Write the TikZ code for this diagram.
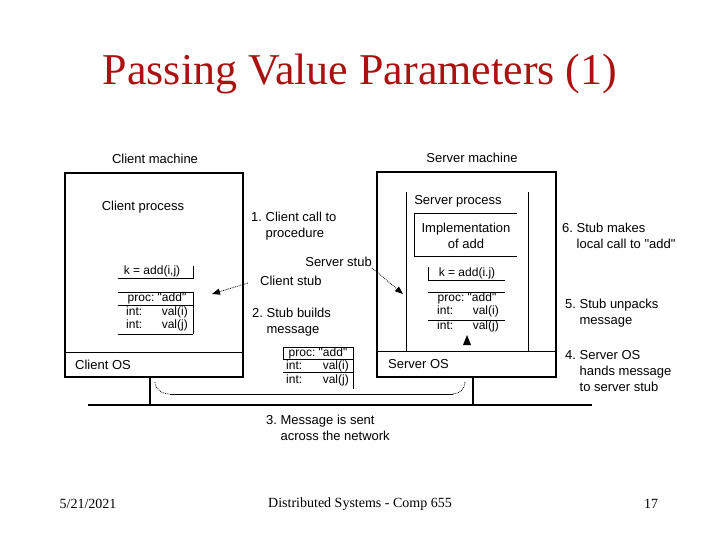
\documentclass[tikz,border=0pt]{standalone}
\usepackage{fontspec}
\setmainfont{Liberation Serif}
\newfontfamily\diagfont{Liberation Sans}[Ligatures=TeXOff]
\usetikzlibrary{arrows.meta}
\definecolor{titlered}{RGB}{170,17,17}
\tikzset{
  lbl/.style={font=\diagfont\fontsize{13}{16}\selectfont, inner sep=0pt},
  note/.style={lbl, anchor=west, align=left},
  stubtxt/.style={font=\diagfont\fontsize{12}{13}\selectfont, inner sep=0pt, text height=8pt, text depth=2.5pt},
  machine/.style={line width=1.8pt},
  thinline/.style={line width=0.8pt},
  stubarrow/.style={densely dotted, line width=0.8pt, -{Triangle[length=8pt,width=6pt]}},
  slidetxt/.style={font=\fontsize{14}{16}\selectfont, inner sep=0pt}
}
\newcommand{\ind}{\phantom{0. }}
\frenchspacing
\begin{document}
\begin{tikzpicture}[x=1pt,y=-1pt]
    \useasboundingbox[fill=white] (0,0) rectangle (720,540);
    % title and footer
    \node[font=\fontsize{44}{48}\selectfont, text=titlered, inner sep=0pt] (title) at (360,74) {Passing Value Parameters (1)};
    \node[slidetxt] (date) at (88,504) {5/21/2021};
    \node[slidetxt] (course) at (360,504) {Distributed Systems - Comp 655};
    \node[slidetxt] (page) at (651,504) {17};
    % machines
    \draw[machine] (65,173) rectangle (243,377);
    \draw[thinline] (65,352) -- (243,352);
    \draw[machine] (377,172) rectangle (556,377);
    \draw[thinline] (377,351) -- (556,351);
    \node[lbl] (cmach) at (155,159) {Client machine};
    \node[lbl] (smach) at (472,158) {Server machine};
    \node[lbl] (cproc) at (143,207) {Client process};
    \node[lbl] (sproc) at (458,201) {Server process};
    \node[lbl, anchor=west] (cos) at (75,365) {Client OS};
    \node[lbl, anchor=west] (sos) at (388,364) {Server OS};
    % server process walls
    \draw[thinline] (406,192) -- (406,351);
    \draw[thinline] (528,192) -- (528,351);
    \draw[thinline] (517,213) -- (414,213) -- (414,256) -- (517,256);
    \node[lbl, align=center] (impl) at (466,236) {Implementation\\of add};
    % client stub
    \draw[thinline] (118,278) -- (193,278) -- (193,266);
    \node[stubtxt] (ccall) at (152,272) {k = add(i,j)};
    \draw[thinline] (118,292) -- (193,292);
    \draw[thinline] (118,305) -- (193,305);
    \draw[thinline] (118,334) -- (193,334);
    \draw[thinline] (193,292) -- (193,334);
    \node[stubtxt] (cproc) at (157,299) {proc: "add"};
    \node[stubtxt, anchor=west] (cint1) at (126,313) {int:};
    \node[stubtxt, anchor=east] (cval1) at (188,313) {val(i)};
    \node[stubtxt, anchor=west] (cint2) at (126,326) {int:};
    \node[stubtxt, anchor=east] (cval2) at (188,326) {val(j)};
    % server stub
    \draw[thinline] (428,267) -- (428,280) -- (505,280);
    \node[stubtxt] (scall) at (467,274) {k = add(i.j)};
    \draw[thinline] (428,292) -- (505,292);
    \draw[thinline] (428,320) -- (505,320);
    \node[stubtxt] (sproc) at (467,299) {proc: "add"};
    \node[stubtxt, anchor=west] (sint1) at (437,312) {int:};
    \node[stubtxt, anchor=east] (sval1) at (499,312) {val(i)};
    \node[stubtxt, anchor=west] (sint2) at (437,327) {int:};
    \node[stubtxt, anchor=east] (sval2) at (499,327) {val(j)};
    \fill (463,345) -- (471,345) -- (467,335) -- cycle;
    % message on the wire
    \draw[thinline] (283,359) -- (283,347) -- (353,347) -- (353,389);
    \draw[thinline] (283,359) -- (353,359);
    \draw[thinline] (283,372) -- (353,372);
    \node[stubtxt] (mproc) at (318,354) {proc: "add"};
    \node[stubtxt, anchor=west] (mint1) at (286,367) {int:};
    \node[stubtxt, anchor=east] (mval1) at (349,367) {val(i)};
    \node[stubtxt, anchor=west] (mint2) at (286,381) {int:};
    \node[stubtxt, anchor=east] (mval2) at (349,381) {val(j)};
    % network
    \draw[line width=2.6pt] (88,405) -- (592,405);
    \draw[line width=2pt] (150,377) -- (150,405);
    \draw[line width=2pt] (473,377) -- (473,405);
    \draw[densely dotted, thinline] (155,382) to[out=-90,in=180] (170,394);
    \draw[thinline] (170,394) -- (453,394);
    \draw[densely dotted, thinline] (453,394) to[out=0,in=-90] (465,382);
    % steps
    \node[note] (step1) at (251,226) {1. Client call to\\\ind procedure};
    \node[note] (step2) at (252,322) {2. Stub builds\\\ind message};
    \node[note] (step3) at (266,428) {3. Message is sent\\\ind across the network};
    \node[note] (step4) at (565,371) {4. Server OS\\\ind hands message\\\ind to server stub};
    \node[note] (step5) at (565,313) {5. Stub unpacks\\\ind message};
    \node[note] (step6) at (562,236) {6. Stub makes\\\ind local call to "add"};
    % stub pointers
    \node[lbl, anchor=east] (sstub) at (372,262) {Server stub};
    \node[lbl, anchor=west] (cstub) at (260,281) {Client stub};
    \coordinate (ctip) at (212,294);
    \coordinate (stip) at (403,294);
    \draw[stubarrow] ([xshift=-12pt,yshift=-2pt]cstub.west) -- (ctip);
    \draw[stubarrow] ([yshift=-1pt]sstub.south east) -- (stip);
\end{tikzpicture}
\end{document}
